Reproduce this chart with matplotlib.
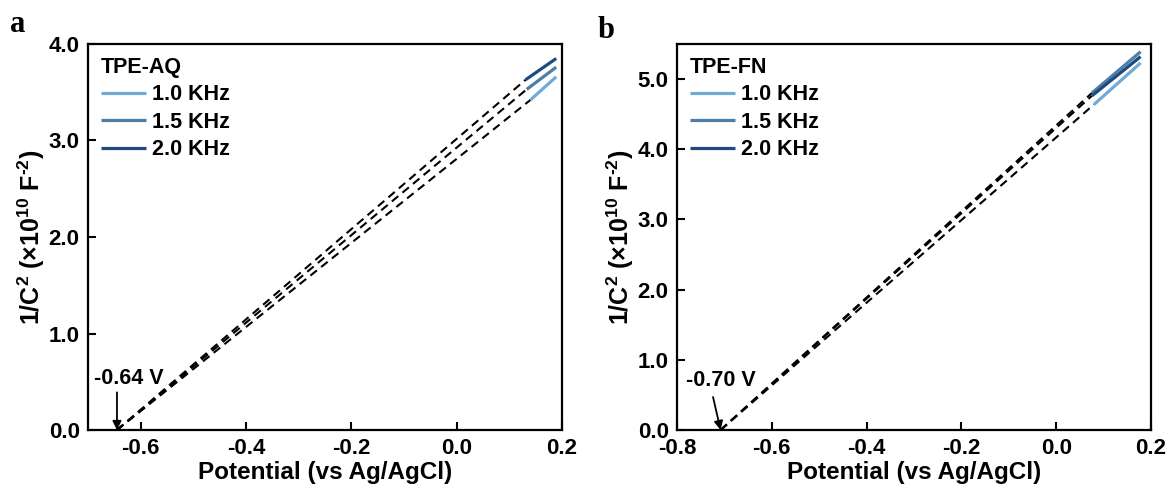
import matplotlib
matplotlib.use("Agg")
import matplotlib.pyplot as plt

plt.rcParams['font.family'] = ['Liberation Sans', 'DejaVu Sans']
plt.rcParams['font.weight'] = 'bold'
plt.rcParams['mathtext.fontset'] = 'custom'
plt.rcParams['mathtext.rm'] = 'Liberation Sans:bold'
plt.rcParams['mathtext.bf'] = 'Liberation Sans:bold'
plt.rcParams['mathtext.default'] = 'bf'

# ---------------- data ----------------
freq_labels = ['1.0 KHz', '1.5 KHz', '2.0 KHz']
colors = ['#72aad6', '#4d7ea8', '#1f4a80']

# Panel a (TPE-AQ): measured segments (x start/end, y start/end)
a_x0 = [0.140, 0.133, 0.131]
a_x1 = [0.189, 0.189, 0.189]
a_y0 = [3.42, 3.53, 3.63]
a_y1 = [3.66, 3.76, 3.85]
a_intercept = -0.645

# Panel b (TPE-FN)
b_x0 = [0.080, 0.075, 0.075]
b_x1 = [0.178, 0.178, 0.178]
b_y0 = [4.64, 4.80, 4.76]
b_y1 = [5.23, 5.39, 5.32]
b_intercept = -0.708

a_xticks = [-0.6, -0.4, -0.2, 0.0, 0.2]
a_yticks = [0.0, 1.0, 2.0, 3.0, 4.0]
b_xticks = [-0.8, -0.6, -0.4, -0.2, 0.0, 0.2]
b_yticks = [0.0, 1.0, 2.0, 3.0, 4.0, 5.0]

fig = plt.figure(figsize=(11.69, 4.95), dpi=100)
W, H = 1169, 495
axa = fig.add_axes([88 / W, (H - 430) / H, 474 / W, 386 / H])
axb = fig.add_axes([677 / W, (H - 430) / H, 474 / W, 386 / H])

ylabel = r'1/C$^{2}$ (×10$^{10}$ F$^{‑2}$)'


def style(ax, xt, yt, xlim, ylim):
    ax.set_xlim(*xlim)
    ax.set_ylim(*ylim)
    ax.set_xticks(xt)
    ax.set_yticks(yt)
    ax.set_xticklabels([f'{v:.1f}' for v in xt])
    ax.set_yticklabels([f'{v:.1f}' for v in yt])
    ax.tick_params(direction='in', length=6, width=1.5, labelsize=16,
                   top=False, right=False, pad=6)
    for s in ax.spines.values():
        s.set_linewidth(1.6)
    ax.set_xlabel('Potential (vs Ag/AgCl)', fontsize=17.5, fontweight='bold', labelpad=1)
    ax.set_ylabel(ylabel, fontsize=18, fontweight='bold', labelpad=1)


def draw(ax, x0, x1, y0, y1, icpt, title):
    handles = []
    for i in range(3):
        ax.plot([icpt, x0[i]], [0, y0[i]], color='black', lw=1.5,
                dashes=(4.0, 2.6), zorder=2)
        h, = ax.plot([x0[i], x1[i]], [y0[i], y1[i]], color=colors[i], lw=2.3,
                     solid_capstyle='butt', zorder=3)
        handles.append(h)
    leg = ax.legend(handles, freq_labels, title=title, loc='upper left',
                    frameon=False, fontsize=15.5, title_fontsize=15.5,
                    handlelength=2.1, handletextpad=0.25, labelspacing=0.3,
                    borderaxespad=0.25, borderpad=0.35,
                    bbox_to_anchor=(0.0, 1.0))
    leg._legend_box.align = 'left'
    leg.get_title().set_fontweight('bold')


draw(axa, a_x0, a_x1, a_y0, a_y1, a_intercept, 'TPE-AQ')
draw(axb, b_x0, b_x1, b_y0, b_y1, b_intercept, 'TPE-FN')
style(axa, a_xticks, a_yticks, (-0.70, 0.197), (0, 4.0))
style(axb, b_xticks, b_yticks, (-0.80, 0.198), (0, 5.5))

# annotations
axa.annotate('', xy=(a_intercept, 0.0), xytext=(a_intercept, 0.39),
             arrowprops=dict(arrowstyle='-|>', color='black', lw=1.3,
                             mutation_scale=13, shrinkA=0, shrinkB=0))
axa.text(-0.622, 0.53, '-0.64 V', fontsize=15.5, fontweight='bold',
         ha='center', va='center')

axb.annotate('', xy=(b_intercept, 0.0), xytext=(-0.724, 0.47),
             arrowprops=dict(arrowstyle='-|>', color='black', lw=1.3,
                             mutation_scale=13, shrinkA=0, shrinkB=0))
axb.text(-0.707, 0.70, '-0.70 V', fontsize=15.5, fontweight='bold',
         ha='center', va='center')

fig.text(18 / W, 1 - 24 / H, 'a', fontsize=22, fontweight='bold',
         family=['Liberation Serif'], ha='center', va='center')
fig.text(606 / W, 1 - 30 / H, 'b', fontsize=22, fontweight='bold',
         family=['Liberation Serif'], ha='center', va='center')

fig.savefig('out.png', dpi=100)
